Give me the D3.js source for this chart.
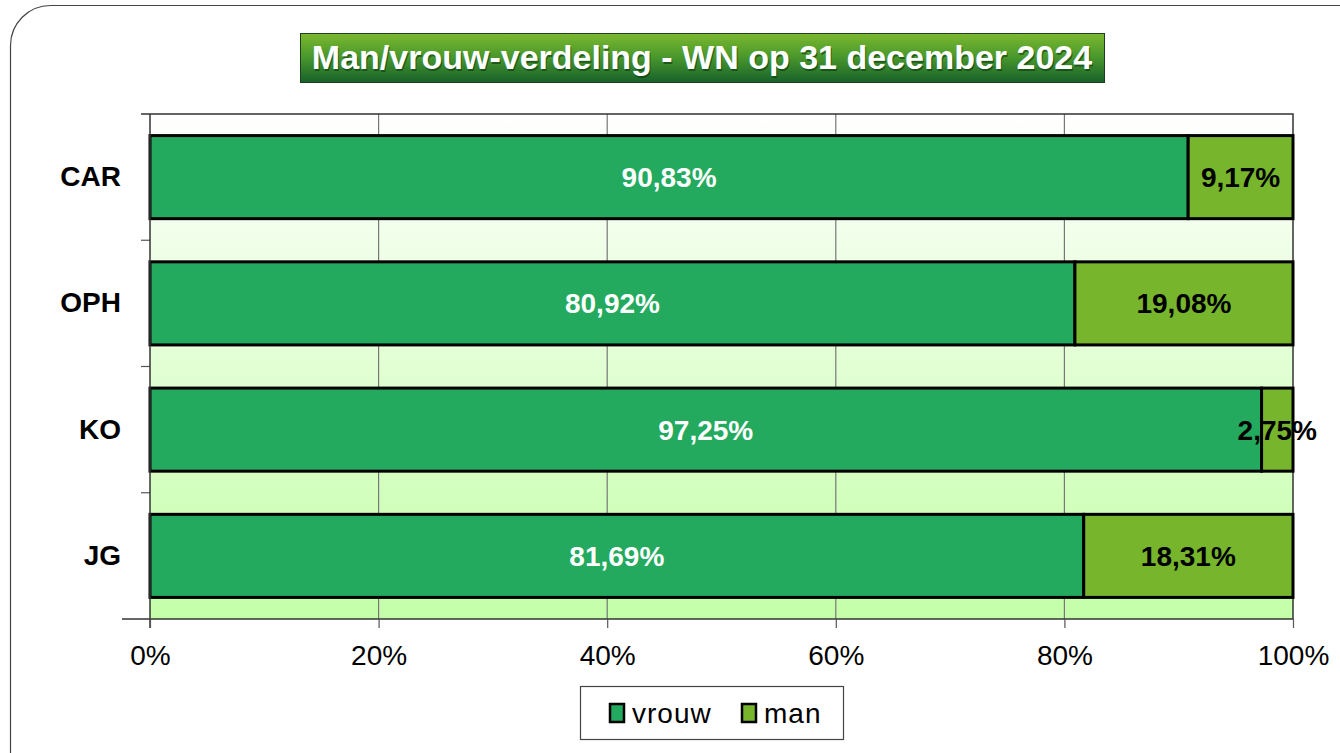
<!DOCTYPE html>
<html>
<head>
<meta charset="utf-8">
<script src="https://cdn.jsdelivr.net/npm/d3@7"></script>
<style>
    body { margin: 0; background: #fff; }
    svg { display: block; font-family: "Liberation Sans", Arial, sans-serif; }
</style>
</head>
<body>
<svg id="chart" width="1340" height="753"></svg>
<script>
(function() {
    var categories = ["CAR", "OPH", "KO", "JG"];
    var vrouw = [90.83, 80.92, 97.25, 81.69];
    var man = [9.17, 19.08, 2.75, 18.31];
    var series_names = ["vrouw", "man"];
    var x_ticks = [0, 20, 40, 60, 80, 100];
    var title_text = "Man/vrouw-verdeling - WN op 31 december 2024";

    var colors = {vrouw: "#23aa5f", man: "#77b52d"};

    var plot = {left: 150, right: 1293, top: 114, bottom: 619};

    var svg = d3.select("#chart");
    var defs = svg.append("defs");

    var bg = defs.append("linearGradient")
        .attr("id", "plotbg")
        .attr("x1", 0).attr("y1", 0).attr("x2", 0).attr("y2", 1);
    bg.append("stop").attr("offset", "0%").attr("stop-color", "#ffffff");
    bg.append("stop").attr("offset", "100%").attr("stop-color", "#c4ffa8");

    var tg = defs.append("linearGradient")
        .attr("id", "titlebg")
        .attr("x1", 0).attr("y1", 0).attr("x2", 0).attr("y2", 1);
    tg.append("stop").attr("offset", "0%").attr("stop-color", "#7cb82f");
    tg.append("stop").attr("offset", "45%").attr("stop-color", "#4c9a2c");
    tg.append("stop").attr("offset", "100%").attr("stop-color", "#17622a");

    // outer frame
    svg.append("rect")
        .attr("x", 10.5).attr("y", 5.5)
        .attr("width", 1370).attr("height", 790)
        .attr("rx", 40).attr("ry", 40)
        .attr("fill", "none")
        .attr("stroke", "#444")
        .attr("stroke-width", 1.2);

    var x = d3.scaleLinear().domain([0, 100]).range([plot.left, plot.right]);
    var y = d3.scaleBand().domain(categories).range([plot.top, plot.bottom]).paddingInner(0.342).paddingOuter(0.171);
    var yb = d3.scaleBand().domain(categories).range([plot.top, plot.bottom]);

    // plot background
    svg.append("rect")
        .attr("x", plot.left).attr("y", plot.top)
        .attr("width", plot.right - plot.left).attr("height", plot.bottom - plot.top)
        .attr("fill", "url(#plotbg)");

    // grid lines
    svg.append("g")
        .selectAll("line")
        .data(x_ticks.slice(1, -1))
        .enter()
        .append("line")
        .attr("x1", function(d) { return x(d); })
        .attr("x2", function(d) { return x(d); })
        .attr("y1", plot.top).attr("y2", plot.bottom)
        .attr("stroke", "#777").attr("stroke-width", 1.2);

    // plot border top / right
    svg.append("path")
        .attr("d", "M" + plot.left + "," + plot.top + "H" + plot.right + "V" + plot.bottom)
        .attr("fill", "none").attr("stroke", "#333").attr("stroke-width", 1.5);

    var rows = categories.map(function(c, i) {
        return {cat: c, vrouw: vrouw[i], man: man[i]};
    });
    var stacked = d3.stack().keys(series_names)(rows);

    var layers = svg.append("g")
        .selectAll("g")
        .data(stacked)
        .enter()
        .append("g")
        .attr("fill", function(d) { return colors[d.key]; });

    layers.selectAll("rect")
        .data(function(d) { return d; })
        .enter()
        .append("rect")
        .attr("x", function(d) { return x(d[0]); })
        .attr("y", function(d) { return y(d.data.cat); })
        .attr("width", function(d) { return x(d[1]) - x(d[0]); })
        .attr("height", y.bandwidth())
        .attr("stroke", "#000")
        .attr("stroke-width", 3);

    // value labels
    layers.selectAll("text")
        .data(function(d) { return d.map(function(v) { v.key = d.key; return v; }); })
        .enter()
        .append("text")
        .attr("x", function(d) { return (x(d[0]) + x(d[1])) / 2; })
        .attr("y", function(d) { return y(d.data.cat) + y.bandwidth() / 2; })
        .attr("dy", "0.36em")
        .attr("text-anchor", "middle")
        .attr("font-size", 28)
        .attr("font-weight", "bold")
        .attr("fill", function(d) { return d.key == "vrouw" ? "#fff" : "#000"; })
        .text(function(d) { return (d[1] - d[0]).toFixed(2).replace(".", ",") + "%"; });

    // y axis
    var yAxis = svg.append("g")
        .attr("transform", "translate(" + plot.left + ",0)")
        .call(d3.axisLeft(yb).tickSize(0).tickPadding(29));
    yAxis.select(".domain").remove();
    yAxis.selectAll("text")
        .attr("font-size", 28).attr("font-weight", "bold").attr("fill", "#000")
        .attr("font-family", "Liberation Sans, Arial, sans-serif");
    svg.append("g")
        .selectAll("line")
        .data(categories.slice(1))
        .enter()
        .append("line")
        .attr("x1", plot.left - 9).attr("x2", plot.left)
        .attr("y1", function(d) { return yb(d); })
        .attr("y2", function(d) { return yb(d); })
        .attr("stroke", "#555").attr("stroke-width", 1.2);
    svg.append("line")
        .attr("x1", plot.left).attr("x2", plot.left)
        .attr("y1", plot.top).attr("y2", plot.bottom + 9)
        .attr("stroke", "#333").attr("stroke-width", 1.5);
    svg.append("line")
        .attr("x1", plot.left - 9).attr("x2", plot.left)
        .attr("y1", plot.top).attr("y2", plot.top)
        .attr("stroke", "#333").attr("stroke-width", 1.5);

    // x axis
    var xAxis = svg.append("g")
        .attr("transform", "translate(0," + plot.bottom + ")")
        .call(d3.axisBottom(x).tickValues(x_ticks).tickSize(9).tickPadding(17)
            .tickFormat(function(d) { return d + "%"; }));
    xAxis.select(".domain")
        .attr("d", "M" + (plot.left - 28) + ",0H" + plot.right)
        .attr("stroke", "#333").attr("stroke-width", 1.5);
    xAxis.selectAll(".tick line").attr("stroke", "#555").attr("stroke-width", 1.2);
    xAxis.selectAll("text")
        .attr("font-size", 28).attr("fill", "#000")
        .attr("font-family", "Liberation Sans, Arial, sans-serif");

    // title
    var tbox = {x: 300, y: 33, w: 804, h: 49};
    svg.append("rect")
        .attr("x", tbox.x + 0.5).attr("y", tbox.y + 0.5)
        .attr("width", tbox.w).attr("height", tbox.h)
        .attr("fill", "url(#titlebg)")
        .attr("stroke", "#1f3d1f").attr("stroke-width", 1);
    svg.append("text")
        .attr("x", tbox.x + tbox.w / 2 + 1).attr("y", tbox.y + tbox.h / 2 + 2)
        .attr("dy", "0.35em")
        .attr("text-anchor", "middle")
        .attr("font-size", 34).attr("font-weight", "bold")
        .attr("fill", "#0b3a12").attr("opacity", 0.6)
        .text(title_text);
    svg.append("text")
        .attr("x", tbox.x + tbox.w / 2).attr("y", tbox.y + tbox.h / 2)
        .attr("dy", "0.35em")
        .attr("text-anchor", "middle")
        .attr("font-size", 34).attr("font-weight", "bold")
        .attr("fill", "#fff")
        .text(title_text);

    // legend
    var lg = svg.append("g");
    lg.append("rect")
        .attr("x", 580.5).attr("y", 686.5).attr("width", 263).attr("height", 53)
        .attr("fill", "#fff").attr("stroke", "#444").attr("stroke-width", 1.2);
    var litems = lg.selectAll("g")
        .data(series_names)
        .enter()
        .append("g")
        .attr("transform", function(d, i) { return "translate(" + (610 + i * 132) + ",713)"; });
    litems.append("rect")
        .attr("x", 0).attr("y", -9).attr("width", 14).attr("height", 18)
        .attr("fill", function(d) { return colors[d]; })
        .attr("stroke", "#000").attr("stroke-width", 2.5);
    litems.append("text")
        .attr("x", 22).attr("dy", "0.36em")
        .attr("font-size", 28)
        .attr("letter-spacing", 1)
        .text(function(d) { return d; });
}());
</script>
</body>
</html>
